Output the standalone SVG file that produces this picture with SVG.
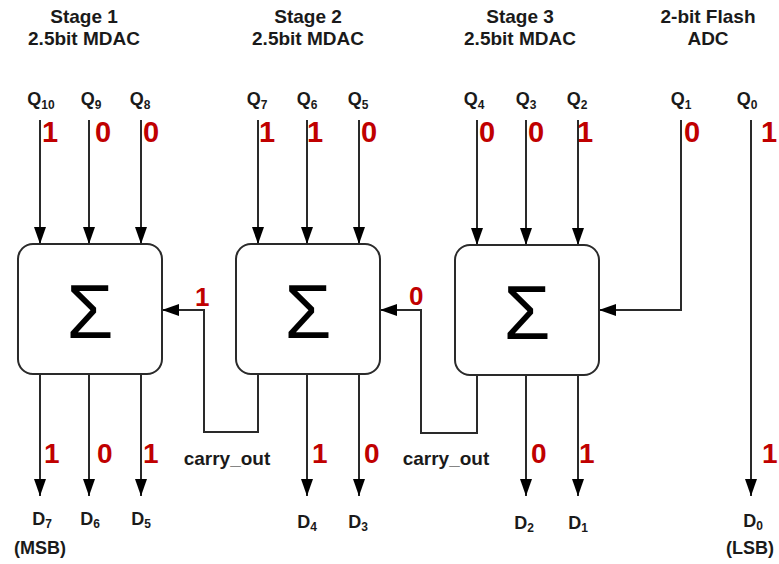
<svg xmlns="http://www.w3.org/2000/svg" width="779" height="564" viewBox="0 0 779 564">
<style>
text{font-family:"Liberation Sans",Arial,sans-serif;fill:#1a1a1a}
.t{font-size:19px;font-weight:bold;text-anchor:middle}
.q{font-size:18px;font-weight:bold;text-anchor:middle}
.d{font-size:18px;font-weight:bold;text-anchor:middle}
.s{font-size:12px}
.r{font-size:29px;font-weight:bold;fill:#c00000}
.rb{font-size:28px;font-weight:bold;fill:#c00000}
.rc{font-size:26px;font-weight:bold;fill:#c00000}
.box{fill:#fff;stroke:#2a2a2a;stroke-width:2}
.sig{font-size:76px;text-anchor:middle;fill:#000}
.w{fill:none;stroke:#2a2a2a;stroke-width:2}
.co{font-size:19px;font-weight:bold;text-anchor:middle}
</style>
<defs>
<marker id="ah" markerUnits="userSpaceOnUse" markerWidth="17" markerHeight="12" refX="17" refY="6" orient="auto">
<path d="M0,0 L17,6 L0,12 Z" fill="#000"/>
</marker>
</defs>

<g id="titles">
<text class="t" x="84" y="23">Stage 1</text>
<text class="t" x="84" y="45">2.5bit MDAC</text>
<text class="t" x="308" y="23">Stage 2</text>
<text class="t" x="308" y="45">2.5bit MDAC</text>
<text class="t" x="520" y="23">Stage 3</text>
<text class="t" x="520" y="45">2.5bit MDAC</text>
<text class="t" x="708" y="23">2-bit Flash</text>
<text class="t" x="708" y="45">ADC</text>
</g>

<g id="connectors">
<path class="w" d="M40,120 V244" marker-end="url(#ah)"/>
<path class="w" d="M89,120 V244" marker-end="url(#ah)"/>
<path class="w" d="M141,120 V244" marker-end="url(#ah)"/>
<path class="w" d="M258,120 V244" marker-end="url(#ah)"/>
<path class="w" d="M307,120 V244" marker-end="url(#ah)"/>
<path class="w" d="M359,120 V244" marker-end="url(#ah)"/>
<path class="w" d="M477,120 V245" marker-end="url(#ah)"/>
<path class="w" d="M526,120 V245" marker-end="url(#ah)"/>
<path class="w" d="M578,120 V245" marker-end="url(#ah)"/>
<path class="w" d="M681,120 V310 H599" marker-end="url(#ah)"/>
<path class="w" d="M751,120 V496" marker-end="url(#ah)"/>
<path class="w" d="M258,374 V432 H204 V310 H162" marker-end="url(#ah)"/>
<path class="w" d="M477,375 V433 H421 V310 H380" marker-end="url(#ah)"/>
<path class="w" d="M40,374 V496" marker-end="url(#ah)"/>
<path class="w" d="M89,374 V496" marker-end="url(#ah)"/>
<path class="w" d="M141,374 V496" marker-end="url(#ah)"/>
<path class="w" d="M307,374 V496" marker-end="url(#ah)"/>
<path class="w" d="M359,374 V496" marker-end="url(#ah)"/>
<path class="w" d="M526,375 V496" marker-end="url(#ah)"/>
<path class="w" d="M578,375 V496" marker-end="url(#ah)"/>
</g>

<g id="stage1">
<rect class="box" x="18" y="244" width="144" height="130" rx="15"/>
<text class="sig" x="90" y="338">Σ</text>
</g>
<g id="stage2">
<rect class="box" x="236" y="244" width="144" height="130" rx="15"/>
<text class="sig" x="308" y="338">Σ</text>
</g>
<g id="stage3">
<rect class="box" x="455" y="245" width="144" height="130" rx="15"/>
<text class="sig" x="527" y="339">Σ</text>
</g>

<g id="inputs">
<text class="q" x="41" y="105">Q<tspan class="s" dy="4">10</tspan></text>
<text class="q" x="91" y="105">Q<tspan class="s" dy="4">9</tspan></text>
<text class="q" x="140" y="105">Q<tspan class="s" dy="4">8</tspan></text>
<text class="q" x="257" y="105">Q<tspan class="s" dy="4">7</tspan></text>
<text class="q" x="307" y="105">Q<tspan class="s" dy="4">6</tspan></text>
<text class="q" x="358" y="105">Q<tspan class="s" dy="4">5</tspan></text>
<text class="q" x="474" y="105">Q<tspan class="s" dy="4">4</tspan></text>
<text class="q" x="526" y="105">Q<tspan class="s" dy="4">3</tspan></text>
<text class="q" x="577" y="105">Q<tspan class="s" dy="4">2</tspan></text>
<text class="q" x="681" y="105">Q<tspan class="s" dy="4">1</tspan></text>
<text class="q" x="747" y="105">Q<tspan class="s" dy="4">0</tspan></text>
</g>

<g id="input-bits">
<text class="r" x="42" y="142">1</text>
<text class="r" x="95" y="142">0</text>
<text class="r" x="143" y="142">0</text>
<text class="r" x="259" y="142">1</text>
<text class="r" x="307" y="142">1</text>
<text class="r" x="361" y="142">0</text>
<text class="r" x="479" y="142">0</text>
<text class="r" x="528" y="142">0</text>
<text class="r" x="577" y="142">1</text>
<text class="r" x="684" y="142">0</text>
<text class="r" x="761" y="142">1</text>
</g>

<g id="carry">
<text class="rc" x="195" y="306">1</text>
<text class="rc" x="409" y="305">0</text>
<text class="co" x="227" y="465">carry_out</text>
<text class="co" x="446" y="465">carry_out</text>
</g>

<g id="output-bits">
<text class="rb" x="44" y="463">1</text>
<text class="rb" x="97" y="463">0</text>
<text class="rb" x="143" y="463">1</text>
<text class="rb" x="312" y="463">1</text>
<text class="rb" x="364" y="463">0</text>
<text class="rb" x="531" y="463">0</text>
<text class="rb" x="579" y="463">1</text>
<text class="rb" x="762" y="463">1</text>
</g>

<g id="outputs">
<text class="d" x="42" y="525">D<tspan class="s" dy="3">7</tspan></text>
<text class="d" x="90" y="525">D<tspan class="s" dy="3">6</tspan></text>
<text class="d" x="141" y="525">D<tspan class="s" dy="3">5</tspan></text>
<text class="d" x="307" y="528">D<tspan class="s" dy="3">4</tspan></text>
<text class="d" x="358" y="528">D<tspan class="s" dy="3">3</tspan></text>
<text class="d" x="524" y="529">D<tspan class="s" dy="3">2</tspan></text>
<text class="d" x="578" y="529">D<tspan class="s" dy="3">1</tspan></text>
<text class="d" x="753" y="527">D<tspan class="s" dy="3">0</tspan></text>
<text class="d" x="40" y="554">(MSB)</text>
<text class="d" x="750" y="554">(LSB)</text>
</g>
</svg>
